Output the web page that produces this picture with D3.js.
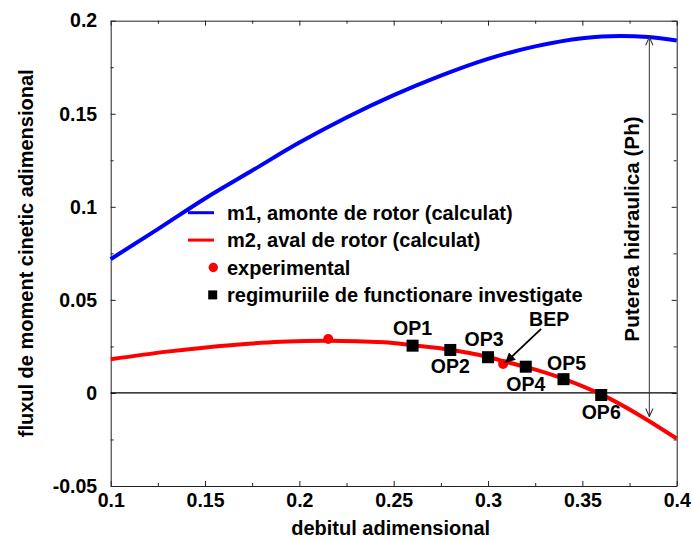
<!DOCTYPE html>
<html>
<head>
<meta charset="utf-8">
<script src="https://cdn.jsdelivr.net/npm/d3@7/dist/d3.min.js"></script>
<style>
  html, body { margin: 0; padding: 0; background: #fff; }
  svg text { font-family: Arial, "Liberation Sans", sans-serif; font-weight: bold; fill: #000; }
</style>
</head>
<body>
<svg id="chart" width="692" height="540"></svg>
<script>
// Dimensionless flow rate (x) for the computed curves
const m1Flow = [0.10, 0.125, 0.15, 0.175, 0.20, 0.225, 0.25, 0.275, 0.30, 0.325, 0.35, 0.37, 0.385, 0.40];
const m1Moment = [0.0719, 0.0880, 0.1045, 0.1195, 0.1345, 0.1480, 0.1600, 0.1705, 0.1795, 0.1862, 0.1906, 0.1918, 0.1912, 0.1894];

const m2Flow = [0.10, 0.13, 0.165, 0.19, 0.215, 0.245, 0.26, 0.28, 0.30, 0.31, 0.32, 0.34, 0.36, 0.38, 0.40];
const m2Moment = [0.0181, 0.0222, 0.0258, 0.0275, 0.0281, 0.0272, 0.0256, 0.0232, 0.0193, 0.0166, 0.0140, 0.0076, -0.0008, -0.0118, -0.0245];

// Experimental points
const expFlow = [0.2153, 0.308];
const expMoment = [0.029, 0.0156];

// Investigated operating points
const opNames = ["OP1", "OP2", "OP3", "OP4", "OP5", "OP6"];
const opFlow = [0.26, 0.28, 0.30, 0.32, 0.34, 0.36];
const opMoment = [0.0254, 0.0231, 0.0192, 0.0141, 0.0074, -0.0011];

// Axis ticks and labels
const xTicks = [0.1, 0.125, 0.15, 0.175, 0.2, 0.225, 0.25, 0.275, 0.3, 0.325, 0.35, 0.375, 0.4];
const xTickLabels = {0.1: "0.1", 0.15: "0.15", 0.2: "0.2", 0.25: "0.25", 0.3: "0.3", 0.35: "0.35", 0.4: "0.4"};
const yTicks = [-0.05, -0.025, 0, 0.025, 0.05, 0.075, 0.1, 0.125, 0.15, 0.175, 0.2];
const yTickLabels = {"-0.05": "-0.05", "0": "0", "0.05": "0.05", "0.1": "0.1", "0.15": "0.15", "0.2": "0.2"};

const legendLabels = [
  "m1, amonte de rotor (calculat)",
  "m2, aval de rotor (calculat)",
  "experimental",
  "regimuriile de functionare investigate"
];

const svg = d3.select("#chart");
const L = 110.7, R = 676.7, T = 20.7, B = 486;
const FS_TICK = 19.5, FS_OP = 19.5, FS_LEG = 20, FS_TITLE = 20, FS_PH = 20.7;

const x = d3.scaleLinear().domain([0.1, 0.4]).range([L, R]);
const y = d3.scaleLinear().domain([-0.05, 0.2]).range([B, T]);

const isMajorX = d => xTickLabels[+d.toFixed(3)] !== undefined;
const isMajorY = d => yTickLabels[String(+d.toFixed(3))] !== undefined;

function styleAxis(g, isMajor, minorLen, attr) {
  g.selectAll(".domain").attr("stroke", "#222").attr("stroke-width", 1);
  g.selectAll(".tick line").attr("stroke", "#222").attr("stroke-width", 1)
    .filter(d => !isMajor(d)).attr(attr, minorLen);
  g.selectAll(".tick text").attr("font-size", FS_TICK).attr("fill", "#000");
}

// Bottom axis
const gB = svg.append("g").attr("transform", `translate(0,${B})`)
  .call(d3.axisBottom(x).tickValues(xTicks)
    .tickFormat(d => xTickLabels[+d.toFixed(3)] || "")
    .tickSizeInner(-5).tickSizeOuter(0).tickPadding(7.3));
styleAxis(gB, isMajorX, -3, "y2");

// Top axis
const gT = svg.append("g").attr("transform", `translate(0,${T})`)
  .call(d3.axisTop(x).tickValues(xTicks).tickFormat("").tickSizeInner(-5).tickSizeOuter(0));
styleAxis(gT, isMajorX, 3, "y2");

// Left axis
const gL = svg.append("g").attr("transform", `translate(${L},0)`)
  .call(d3.axisLeft(y).tickValues(yTicks)
    .tickFormat(d => yTickLabels[String(+d.toFixed(3))] || "")
    .tickSizeInner(-5).tickSizeOuter(0).tickPadding(13.5));
styleAxis(gL, isMajorY, 3, "x2");

// Right axis
const gR = svg.append("g").attr("transform", `translate(${R},0)`)
  .call(d3.axisRight(y).tickValues(yTicks).tickFormat("").tickSizeInner(-5).tickSizeOuter(0));
styleAxis(gR, isMajorY, -3, "x2");

// Zero reference line
svg.append("line")
  .attr("x1", L).attr("x2", R).attr("y1", y(0)).attr("y2", y(0))
  .attr("stroke", "#000").attr("stroke-width", 1.3);

const line = d3.line().curve(d3.curveMonotoneX);

// Computed curves
svg.append("path")
  .attr("d", line(m1Flow.map((f, i) => [x(f), y(m1Moment[i])])))
  .attr("fill", "none").attr("stroke", "#0000ff").attr("stroke-width", 4);
svg.append("path")
  .attr("d", line(m2Flow.map((f, i) => [x(f), y(m2Moment[i])])))
  .attr("fill", "none").attr("stroke", "#ff0000").attr("stroke-width", 4);

// Experimental points
svg.selectAll(".exp").data(expFlow).join("circle")
  .attr("cx", d => x(d)).attr("cy", (d, i) => y(expMoment[i]))
  .attr("r", 5).attr("fill", "#ff0000");

// Operating points
const SQ = 12;
svg.selectAll(".op").data(opFlow).join("rect")
  .attr("x", d => x(d) - SQ / 2).attr("y", (d, i) => y(opMoment[i]) - SQ / 2)
  .attr("width", SQ).attr("height", SQ).attr("fill", "#000");

// Operating point labels (offsets relative to each marker)
const opLabelOffset = [[0, -11], [0, 23], [-4, -11], [0, 24], [3, -9], [0, 24]];
svg.selectAll(".opl").data(opNames).join("text")
  .attr("x", (d, i) => x(opFlow[i]) + opLabelOffset[i][0])
  .attr("y", (d, i) => y(opMoment[i]) + opLabelOffset[i][1])
  .attr("text-anchor", "middle").attr("font-size", FS_OP)
  .text(d => d);

// BEP annotation
const defs = svg.append("defs");
defs.append("marker").attr("id", "bepHead")
  .attr("viewBox", "0 0 10 10").attr("refX", 10).attr("refY", 5)
  .attr("markerWidth", 10).attr("markerHeight", 10).attr("markerUnits", "userSpaceOnUse")
  .attr("orient", "auto")
  .append("path").attr("d", "M0,0 L10,5 L0,10 z").attr("fill", "#000");
const bx = x(expFlow[1]), by = y(expMoment[1]);
svg.append("line")
  .attr("x1", bx + 38).attr("y1", by - 35).attr("x2", bx + 2).attr("y2", by - 1)
  .attr("stroke", "#000").attr("stroke-width", 1.8).attr("marker-end", "url(#bepHead)");
svg.append("text").attr("x", bx + 46).attr("y", by - 38)
  .attr("text-anchor", "middle").attr("font-size", FS_OP).text("BEP");

// Hydraulic power double arrow between the two curves
defs.append("marker").attr("id", "openHead")
  .attr("viewBox", "0 0 10 10").attr("refX", 10).attr("refY", 5)
  .attr("markerWidth", 9).attr("markerHeight", 9).attr("markerUnits", "userSpaceOnUse")
  .attr("orient", "auto-start-reverse")
  .append("path").attr("d", "M1,1 L10,5 L1,9").attr("fill", "none").attr("stroke", "#333").attr("stroke-width", 1.2);
const phFlow = 0.3855;
svg.append("line")
  .attr("x1", x(phFlow)).attr("x2", x(phFlow))
  .attr("y1", y(0.1912)).attr("y2", y(-0.0127))
  .attr("stroke", "#333").attr("stroke-width", 1)
  .attr("marker-start", "url(#openHead)").attr("marker-end", "url(#openHead)");
svg.append("text")
  .attr("transform", `translate(638.5,229) rotate(-90)`)
  .attr("text-anchor", "middle").attr("font-size", FS_PH)
  .text("Puterea hidraulica (Ph)");

// Legend
const legX = 188, legTextX = 227, legY0 = 212.7, legStep = 27.4;
const leg = svg.append("g");
[0, 1].forEach(i => {
  leg.append("line").attr("x1", legX).attr("x2", legX + 26)
    .attr("y1", legY0 + i * legStep).attr("y2", legY0 + i * legStep)
    .attr("stroke", i === 0 ? "#0000ff" : "#ff0000").attr("stroke-width", 3);
});
leg.append("circle").attr("cx", 213.3).attr("cy", legY0 + 2 * legStep).attr("r", 4.7).attr("fill", "#ff0000");
leg.append("rect").attr("x", 212.7 - 4.5).attr("y", legY0 + 3 * legStep - 4.5)
  .attr("width", 9).attr("height", 9).attr("fill", "#000");
leg.selectAll("text").data(legendLabels).join("text")
  .attr("x", legTextX).attr("y", (d, i) => legY0 + i * legStep + 7)
  .attr("font-size", FS_LEG).text(d => d);

// Axis titles
svg.append("text").attr("x", (L + R) / 2 - 3).attr("y", 535)
  .attr("text-anchor", "middle").attr("font-size", FS_TITLE).text("debitul adimensional");
svg.append("text")
  .attr("transform", `translate(33,${(T + B) / 2}) rotate(-90)`)
  .attr("text-anchor", "middle").attr("font-size", FS_TITLE)
  .text("fluxul de moment cinetic adimensional");
</script>
</body>
</html>
